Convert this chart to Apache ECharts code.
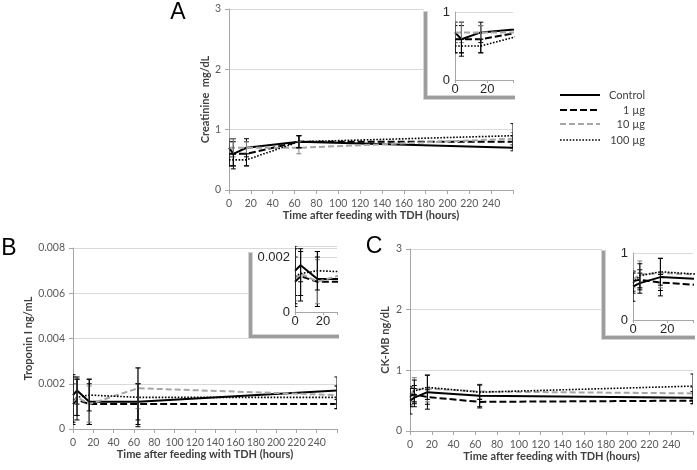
<!DOCTYPE html>
<html>
<head>
<meta charset="utf-8">
<script src="https://cdn.jsdelivr.net/npm/echarts@6/dist/echarts.min.js"></script>
<style>
  html, body { margin: 0; padding: 0; background: #fff; }
  #chart { width: 697px; height: 470px; }
</style>
</head>
<body>
<div id="chart"></div>
<script>
// sampling times (hours after feeding)
const hours = [0, 4, 16, 64, 260];
const doseNames = ['Control', '1 µg', '10 µg', '100 µg'];

// A: creatinine mg/dL
const creatControl = [0.7, 0.6, 0.7, 0.8, 0.7];
const creat1 = [0.6, 0.6, 0.6, 0.8, 0.8];
const creat10 = [0.7, 0.7, 0.7, 0.7, 0.85];
const creat100 = [0.5, 0.5, 0.5, 0.8, 0.9];
const creatErrControl = [0.15, 0.25, 0.15, 0.1, 0.05];
const creatErr1 = [0.2, 0.2, 0.2, 0.1, 0.1];
const creatErr10 = [0.15, 0.15, 0.1, 0.1, 0.1];
const creatErr100 = [0.1, 0.1, 0.1, 0.1, 0.2];

// B: troponin I ng/mL
const tropControl = [0.0015, 0.0017, 0.0012, 0.0012, 0.0017];
const trop1 = [0.0011, 0.0013, 0.0011, 0.0011, 0.0011];
const trop10 = [0.0012, 0.0014, 0.0011, 0.0018, 0.0015];
const trop100 = [0.0013, 0.0014, 0.0015, 0.0014, 0.0014];
const tropErrControl = [0.0009, 0.0006, 0.0010, 0.0008, 0.0006];
const tropErr1 = [0.0009, 0.0009, 0.0009, 0.0009, 0.0002];
const tropErr10 = [0.0008, 0.0008, 0.0008, 0.0009, 0.0004];
const tropErr100 = [0.0010, 0.0008, 0.0007, 0.0013, 0.0005];

// C: CK-MB ng/dL
const ckControl = [0.5, 0.55, 0.64, 0.58, 0.55];
const ck1 = [0.58, 0.6, 0.56, 0.48, 0.5];
const ck10 = [0.6, 0.68, 0.7, 0.65, 0.62];
const ck100 = [0.55, 0.66, 0.72, 0.64, 0.74];
const ckErrControl = [0.22, 0.15, 0.28, 0.18, 0.1];
const ckErr1 = [0.15, 0.15, 0.12, 0.1, 0.05];
const ckErr10 = [0.12, 0.2, 0.22, 0.12, 0.1];
const ckErr100 = [0.15, 0.18, 0.2, 0.12, 0.2];

const mainXTicks = [0, 20, 40, 60, 80, 100, 120, 140, 160, 180, 200, 220, 240];
const insetXTicks = [0, 20];

const lineStyles = [
  { color: '#000', width: 2, type: 'solid' },
  { color: '#000', width: 2, type: [7, 3] },
  { color: '#a6a6a6', width: 2, type: [6, 3] },
  { color: '#000', width: 1.6, type: [1.6, 1.6] },
];
const errColors = ['#000', '#000', '#808080', '#000'];

const panels = [
  {
    yName: 'Creatinine  mg/dL', yMax: 3, yInt: 1, nameGap: 18,
    main: { left: 229, top: 9, right: 184, bottom: 280 },
    inset: { left: 455, top: 12, right: 184, bottom: 390 },
    insetX: 36, insetYMax: 1, insetYInt: 1, insetYLabels: [0, 1],
    values: [creatControl, creat1, creat10, creat100],
    errors: [creatErrControl, creatErr1, creatErr10, creatErr100],
    box: [424, 8, 515, 98], letter: ['A', 178, 13],
  },
  {
    yName: 'Troponin I ng/mL', yMax: 0.008, yInt: 0.002, nameGap: 39,
    main: { left: 73, top: 248, right: 360, bottom: 41 },
    inset: { left: 295, top: 246, right: 360, bottom: 158 },
    insetX: 30, insetYMax: 0.0024, insetYInt: 0.002, insetYLabels: [0, 0.002],
    values: [tropControl, trop1, trop10, trop100],
    errors: [tropErrControl, tropErr1, tropErr10, tropErr100],
    box: [249, 249, 339, 337], letter: ['B', 9, 249],
  },
  {
    yName: 'CK-MB ng/dL', yMax: 3, yInt: 1, nameGap: 19,
    main: { left: 410, top: 249, right: 4, bottom: 39 },
    inset: { left: 633, top: 253, right: 4, bottom: 150 },
    insetX: 35, insetYMax: 1, insetYInt: 1, insetYLabels: [0, 1],
    values: [ckControl, ck1, ck10, ck100],
    errors: [ckErrControl, ckErr1, ckErr10, ckErr100],
    box: [602, 247, 695, 338], letter: ['C', 374, 247],
  },
];

function near(v, list) {
  return list.some(t => Math.abs(v - t) < 1e-9);
}

function errorRender(color) {
  return function (params, api) {
    const x = api.value(0), y = api.value(1), e = api.value(2);
    const top = api.coord([x, y + e]);
    const bot = api.coord([x, y - e]);
    const c = 2.5;
    const st = { stroke: color, lineWidth: 1 };
    return {
      type: 'group',
      children: [
        { type: 'line', shape: { x1: top[0], y1: top[1], x2: bot[0], y2: bot[1] }, style: st },
        { type: 'line', shape: { x1: top[0] - c, y1: top[1], x2: top[0] + c, y2: top[1] }, style: st },
        { type: 'line', shape: { x1: bot[0] - c, y1: bot[1], x2: bot[0] + c, y2: bot[1] }, style: st },
      ],
    };
  };
}

const grids = [], xAxes = [], yAxes = [], series = [], graphics = [];
const gray = '#a6a6a6';
const labelFont = { fontFamily: 'Lato', fontSize: 10.5, color: '#595959' };
const nameFont = { fontFamily: 'Lato', fontSize: 11, fontWeight: 'bold', color: '#404040' };
const insetFont = { fontFamily: 'Liberation Sans', fontSize: 13, color: '#262626' };

panels.forEach(p => {
  // main plot
  const gi = grids.length;
  grids.push(p.main);
  xAxes.push({
    type: 'value', gridIndex: gi, min: 0, max: 260, interval: 20, z: 0,
    axisLine: { show: true, lineStyle: { color: gray } },
    axisTick: { show: true, length: 4, lineStyle: { color: gray } },
    splitLine: { show: false },
    axisLabel: Object.assign({ margin: 8, formatter: v => near(v, mainXTicks) ? String(v) : '' }, labelFont),
    name: 'Time after feeding with TDH (hours)', nameLocation: 'middle', nameGap: 15,
    nameTextStyle: nameFont,
  });
  yAxes.push({
    type: 'value', gridIndex: gi, min: 0, max: p.yMax, interval: p.yInt, z: 0,
    axisLine: { show: true, lineStyle: { color: gray } },
    axisTick: { show: true, length: 4, lineStyle: { color: gray } },
    splitLine: { show: true, lineStyle: { color: '#d9d9d9' } },
    axisLabel: Object.assign({ margin: 8 }, labelFont),
    name: p.yName, nameLocation: 'middle', nameGap: p.nameGap, nameRotate: 90,
    nameTextStyle: nameFont,
  });

  // inset plot
  const ii = grids.length;
  grids.push(p.inset);
  xAxes.push({
    type: 'value', gridIndex: ii, min: 0, max: p.insetX, interval: 20, z: 10,
    axisLine: { show: true, lineStyle: { color: gray } },
    axisTick: { show: true, length: 3, lineStyle: { color: gray } },
    splitLine: { show: false },
    axisLabel: Object.assign({ margin: 3, formatter: v => near(v, insetXTicks) ? String(v) : '' }, insetFont),
  });
  yAxes.push({
    type: 'value', gridIndex: ii, min: 0, max: p.insetYMax, interval: p.insetYInt, z: 10,
    axisLine: { show: true, lineStyle: { color: gray } },
    axisTick: { show: false },
    splitLine: { show: true, lineStyle: { color: '#d9d9d9' } },
    axisLabel: Object.assign({ margin: 5, formatter: v => near(v, p.insetYLabels) ? String(+v.toFixed(4)) : '' }, insetFont),
  });

  [gi, ii].forEach((g, k) => {
    const z = k === 0 ? 2 : 12;
    p.values.forEach((vals, d) => {
      series.push({
        name: doseNames[d], type: 'line', xAxisIndex: g, yAxisIndex: g,
        data: hours.map((h, i) => [h, vals[i]]),
        symbol: 'none', silent: true, z: z, clip: true,
        lineStyle: lineStyles[d],
      });
      series.push({
        type: 'custom', xAxisIndex: g, yAxisIndex: g, clip: true, silent: true, z: z + 1,
        data: hours.map((h, i) => [h, vals[i], p.errors[d][i]]),
        renderItem: errorRender(errColors[d]),
      });
    });
  });

  // inset frame: white box with a soft gray shadow on left and bottom
  const [x0, y0, x1, y1] = p.box;
  graphics.push({ type: 'rect', z: 5, shape: { x: x0, y: y0, width: x1 - x0, height: y1 - y0 }, style: { fill: '#fff' } });
  graphics.push({ type: 'rect', z: 6, shape: { x: x0 - 1, y: y0 + 3, width: 5, height: y1 - y0 - 1 }, style: { fill: '#d4d4d4' } });
  graphics.push({ type: 'rect', z: 6, shape: { x: x0 - 1, y: y1 - 3, width: x1 - x0 + 1, height: 5 }, style: { fill: '#d4d4d4' } });
  graphics.push({ type: 'rect', z: 7, shape: { x: x0, y: y0 + 4, width: 3, height: y1 - y0 - 3 }, style: { fill: '#9d9d9d' } });
  graphics.push({ type: 'rect', z: 7, shape: { x: x0, y: y1 - 2, width: x1 - x0, height: 3 }, style: { fill: '#9d9d9d' } });

  // panel letter
  graphics.push({
    type: 'text', z: 20, x: p.letter[1], y: p.letter[2],
    style: { text: p.letter[0], fontFamily: 'Liberation Sans', fontSize: 23, fill: '#000', align: 'center', verticalAlign: 'middle' },
  });
});

// legend
const legendY = [95, 110, 124, 140];
doseNames.forEach((n, d) => {
  const ls = lineStyles[d];
  graphics.push({
    type: 'line', z: 20, shape: { x1: 560, y1: legendY[d], x2: 600, y2: legendY[d] },
    style: { stroke: ls.color, lineWidth: ls.width, lineDash: ls.type === 'solid' ? null : ls.type },
  });
  graphics.push({
    type: 'text', z: 20, x: 645, y: legendY[d],
    style: { text: n, fontFamily: 'Lato', fontSize: 11, fill: '#404040', align: 'right', verticalAlign: 'middle' },
  });
});

const chart = echarts.init(document.getElementById('chart'));
chart.setOption({
  animation: false,
  backgroundColor: '#fff',
  grid: grids,
  xAxis: xAxes,
  yAxis: yAxes,
  series: series,
  graphic: graphics,
});
</script>
</body>
</html>
